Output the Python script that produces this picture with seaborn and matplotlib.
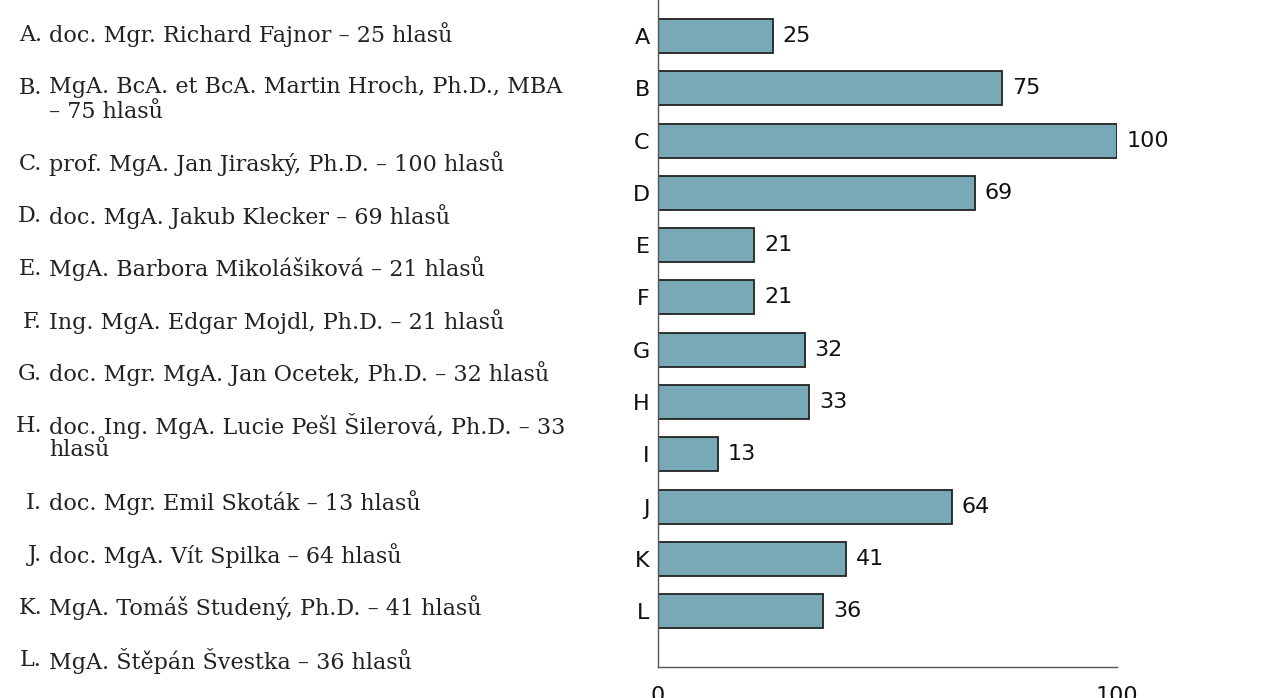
import matplotlib
matplotlib.use("Agg")
import matplotlib.pyplot as plt
import seaborn as sns
import pandas as pd

# data
letters = ["A", "B", "C", "D", "E", "F", "G", "H", "I", "J", "K", "L"]
votes = [25, 75, 100, 69, 21, 21, 32, 33, 13, 64, 41, 36]
candidates = [
    "doc. Mgr. Richard Fajnor – 25 hlasů",
    "MgA. BcA. et BcA. Martin Hroch, Ph.D., MBA\n– 75 hlasů",
    "prof. MgA. Jan Jiraský, Ph.D. – 100 hlasů",
    "doc. MgA. Jakub Klecker – 69 hlasů",
    "MgA. Barbora Mikolášiková – 21 hlasů",
    "Ing. MgA. Edgar Mojdl, Ph.D. – 21 hlasů",
    "doc. Mgr. MgA. Jan Ocetek, Ph.D. – 32 hlasů",
    "doc. Ing. MgA. Lucie Pešl Šilerová, Ph.D. – 33\nhlasů",
    "doc. Mgr. Emil Skoták – 13 hlasů",
    "doc. MgA. Vít Spilka – 64 hlasů",
    "MgA. Tomáš Studený, Ph.D. – 41 hlasů",
    "MgA. Štěpán Švestka – 36 hlasů",
]
x_ticks = [0, 100]

df = pd.DataFrame({"letter": letters, "votes": votes})

sns.set_style("white")
plt.rcParams["font.family"] = ["DejaVu Sans"]

W, H = 1281, 698
fig = plt.figure(figsize=(W / 100, H / 100), dpi=100)
fig.patch.set_facecolor("white")

# bar chart on the right
ax = fig.add_axes([658 / W, (H - 667) / H, (1117 - 658) / W, 667 / H])
sns.barplot(data=df, x="votes", y="letter", orient="h", color="#77a9b6",
            saturation=1, edgecolor="#222222", linewidth=1.3, width=0.65, ax=ax)
ax.bar_label(ax.containers[0], padding=7, fontsize=16, color="#111111")

ax.set_xlim(0, 100)
ax.set_ylim(12.07, -0.69)
ax.set_xticks(x_ticks)
ax.set_xlabel("")
ax.set_ylabel("")
ax.tick_params(axis="y", length=0, pad=6, labelsize=16, labelcolor="#111111")
ax.tick_params(axis="x", direction="in", length=6, pad=14, labelsize=16,
               color="#555555", labelcolor="#111111")
for side in ["top", "right"]:
    ax.spines[side].set_visible(False)
for side in ["left", "bottom"]:
    ax.spines[side].set_color("#555555")
    ax.spines[side].set_linewidth(1.0)

# candidate list on the left
serif = ["DejaVu Serif"]
y = 35
for letter, text in zip(letters, candidates):
    lines = text.split("\n")
    fig.text(42 / W, 1 - y / H, letter + ".", ha="right", va="center",
             fontsize=16, family=serif, color="#222222")
    for k, line in enumerate(lines):
        fig.text(49 / W, 1 - (y + 24 * k) / H, line, ha="left", va="center",
                 fontsize=16, family=serif, color="#222222")
    y += 52.5 + 24 * (len(lines) - 1)

fig.savefig("out.png", dpi=100, facecolor="white")
